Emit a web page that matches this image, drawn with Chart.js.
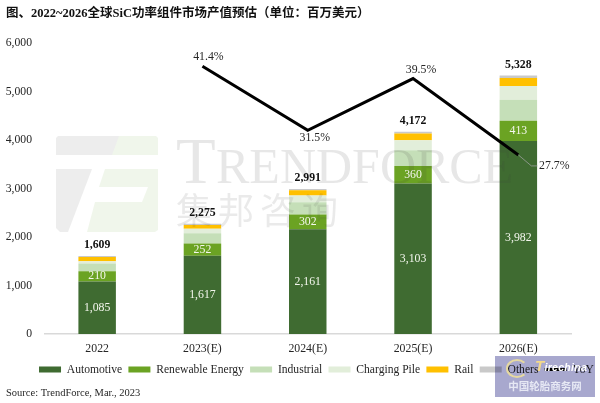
<!DOCTYPE html>
<html><head><meta charset="utf-8">
<style>
html,body{margin:0;padding:0;background:#fff;}
#wrap{position:relative;width:600px;height:403px;overflow:hidden;}
canvas{display:block;}
#badgebg{position:absolute;left:495px;top:356px;width:100px;height:41px;background:rgb(168,168,206);mix-blend-mode:multiply;}
#badge{position:absolute;left:495px;top:356px;width:100px;height:41px;}
#badge .cn{position:absolute;left:0;right:0;top:22px;text-align:center;font:bold 10.5px 'Noto Sans CJK SC';line-height:16px;color:#e6e8f4;}
#badge .en{position:absolute;left:40px;top:3px;font:italic bold 10.5px 'Liberation Sans';line-height:14px;color:#fff;letter-spacing:.3px;}
#badge .en b{color:#f4d98a;font-size:15px;}
#badge .ring{position:absolute;left:11px;top:3px;width:18px;height:15px;border:2px solid #e6d9a0;border-right-color:transparent;border-radius:50%;}
</style>
<script src="https://cdn.jsdelivr.net/npm/chart.js@4"></script>
</head><body>
<div id="wrap"><canvas id="c" width="600" height="403"></canvas>
<div id="badgebg"></div>
<div id="badge"><div class="ring"></div><div class="en"><b>T</b>irechina</div><div class="cn">中国轮胎商务网</div></div></div>
<script>
const categories = ['2022','2023(E)','2024(E)','2025(E)','2026(E)'];
const automotive = [1085,1617,2161,3103,3982];
const renewable  = [210,252,302,360,413];
const industrial = [159,211,253,324,433];
const chargingPile = [50,90,140,210,285];
const rail   = [85,80,110,140,165];
const others = [20,25,25,35,50];
const totals = [1609,2275,2991,4172,5328];
const yoy = [null,41.4,31.5,39.5,27.7];
const yTicks = [0,1000,2000,3000,4000,5000,6000];

const titleText = '图、2022~2026全球SiC功率组件市场产值预估（单位：百万美元）';
const sourceText = 'Source: TrendForce, Mar., 2023';
const SERIF = "'Liberation Serif','Noto Sans CJK SC',serif";
const TEXT = '#262626';
const FS = 11.8;
const yoyLabelShift = [null,[6,-9],[7,8],[8,-9],[36,11]];

const legendFit = {id:'legendFit',beforeInit(chart){
  const f = chart.legend.fit;
  chart.legend.fit = function(){ f.call(this); this.height = 24; };
}};

const watermark = {id:'watermark',afterDatasetsDraw(chart){
  const c = chart.ctx; c.save();
  const poly=(pts,col)=>{c.fillStyle=col;c.beginPath();pts.forEach((p,i)=>i?c.lineTo(p[0],p[1]):c.moveTo(p[0],p[1]));c.closePath();c.fill();};
  const g='rgba(90,90,95,.11)', l='rgba(120,170,70,.11)';
  poly([[58,136],[119,136],[112,155],[56,155],[56,138]],g);
  poly([[119,136],[156,136],[158,138],[158,155],[112,155]],l);
  poly([[56,169],[92,169],[68,232],[60,232],[56,228]],g);
  poly([[105,169],[158,169],[158,230],[155,232],[87,232],[95,202],[142,202],[148,187],[99,187]],l);
  c.fillStyle='rgba(60,60,60,.12)';
  c.textBaseline='alphabetic';c.textAlign='left';
  c.font="65px 'Liberation Serif'";c.fillText('T',176,183);
  c.font="50px 'Liberation Serif'";c.fillText('RENDFORCE',216,183);
  c.font="36px 'Noto Sans CJK SC'";
  c.fillStyle='rgba(60,60,60,.11)';
  ['集','邦','咨','询'].forEach((t,i)=>c.fillText(t,176+i*42,224));
  c.restore();
}};

const labels = {id:'labels',afterDatasetsDraw(chart){
  const c = chart.ctx; c.save();
  c.textAlign='center';c.textBaseline='middle';
  c.font=FS+"px 'Liberation Serif'";c.fillStyle='#f4f7ee';
  [0,1].forEach(d=>{
    chart.getDatasetMeta(d).data.forEach((el,i)=>{
      const p=el.getProps(['x','y','base'],true);
      c.fillText(chart.data.datasets[d].data[i].toLocaleString('en-US'),p.x,(p.y+p.base)/2);
    });
  });
  const ys=chart.scales.y;
  c.font="bold "+FS+"px 'Liberation Serif'";c.fillStyle='#111';
  totals.forEach((t,i)=>{
    const x=chart.scales.x.getPixelForValue(i);
    c.fillText(t.toLocaleString('en-US'),x,ys.getPixelForValue(t)-11);
  });
  const lineMeta=chart.getDatasetMeta(6);
  c.font=FS+"px 'Liberation Serif'";c.fillStyle=TEXT;
  yoy.forEach((v,i)=>{
    if(v===null)return;
    const el=lineMeta.data[i],s=yoyLabelShift[i];
    c.fillText(v.toFixed(1)+'%',el.x+s[0],el.y+s[1]);
    if(i===4){
      c.strokeStyle='#9aa09a';c.lineWidth=.8;c.beginPath();
      c.moveTo(el.x,el.y);c.lineTo(el.x+13,el.y+11);c.lineTo(el.x+19,el.y+11);c.stroke();
    }
  });
  c.restore();
}};

const bar=(label,data,color)=>({type:'bar',label,data,backgroundColor:color,borderWidth:0,stack:'s',
  categoryPercentage:1,barPercentage:0.356,yAxisID:'y',order:2});

new Chart(document.getElementById('c'),{
  data:{labels:categories,datasets:[
    bar('Automotive',automotive,'#3f6b31'),
    bar('Renewable Energy',renewable,'#6ba323'),
    bar('Industrial',industrial,'#c5dfb8'),
    bar('Charging Pile',chargingPile,'#e2eeda'),
    bar('Rail',rail,'#ffc000'),
    bar('Others',others,'#c9c9c9'),
    {type:'line',label:'YoY',data:yoy,yAxisID:'y1',borderColor:'#000',backgroundColor:'#000',borderWidth:3,
     pointRadius:0,tension:0,order:1,spanGaps:false,borderJoinStyle:'miter'}
  ]},
  plugins:[legendFit,watermark,labels],
  options:{
    responsive:false,animation:false,devicePixelRatio:1,
    layout:{padding:{left:6,right:0,top:6,bottom:3}},
    plugins:{
      tooltip:{enabled:false},
      title:{display:true,text:titleText,align:'start',color:'#111',
        font:{family:SERIF,size:12.5,weight:'bold',lineHeight:1.2},padding:{top:0,bottom:22}},
      subtitle:{display:true,text:sourceText,position:'bottom',align:'start',color:TEXT,
        font:{family:SERIF,size:10.5,lineHeight:1.37},padding:{top:4,bottom:0}},
      legend:{position:'bottom',align:'end',
        labels:{usePointStyle:true,pointStyleWidth:22,boxHeight:6,padding:6.2,color:TEXT,font:{family:SERIF,size:11.6},
          sort:(a,b)=>a.datasetIndex-b.datasetIndex,
          generateLabels(chart){
            return Chart.defaults.plugins.legend.labels.generateLabels(chart).map(it=>{
              it.pointStyle = it.datasetIndex===6 ? 'line' : 'rect';
              return it;
            });
          }}}
    },
    scales:{
      x:{stacked:true,grid:{display:false,drawTicks:false},
        border:{display:true,color:'#d9d9d9',width:1.5},
        ticks:{color:TEXT,padding:8,font:{family:SERIF,size:FS},maxRotation:0},
        afterFit(s){s.height=23.5;}},
      y:{stacked:true,min:0,max:6000,grid:{display:false,drawTicks:false},border:{display:false},
        afterBuildTicks(s){s.ticks=yTicks.map(v=>({value:v}));},
        ticks:{color:TEXT,padding:12.5,font:{family:SERIF,size:11.7},callback:v=>v.toLocaleString('en-US')},
        afterFit(s){s.width=38.5;}},
      y1:{position:'right',min:0,max:45,stacked:false,grid:{display:false,drawTicks:false},border:{display:false},
        ticks:{display:false},afterFit(s){s.width=29;}}
    }
  }
});
</script>
</body></html>
